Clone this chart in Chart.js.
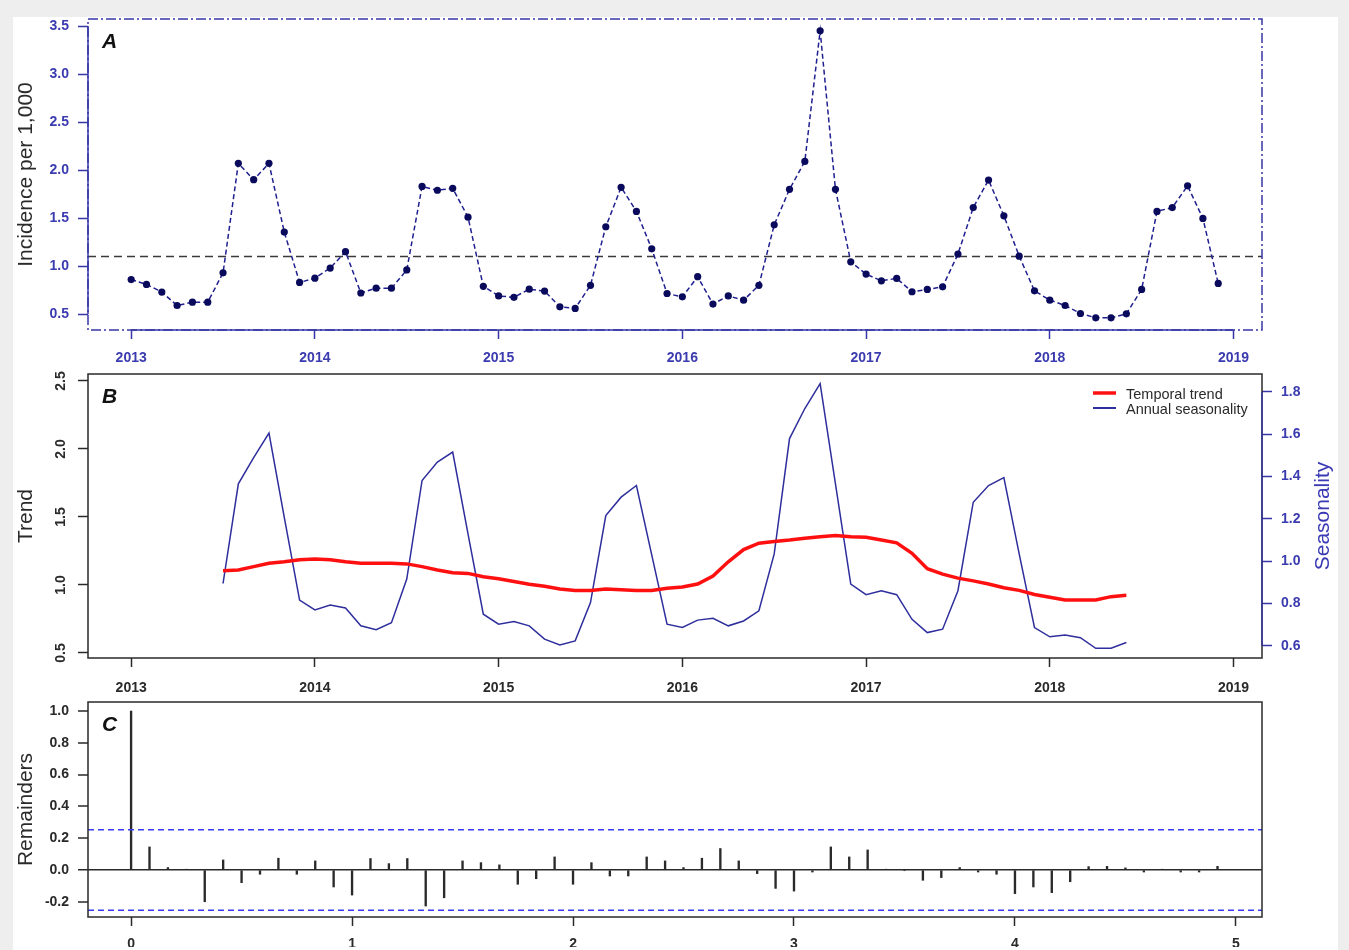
<!DOCTYPE html>
<html>
<head>
<meta charset="utf-8">
<title>Incidence, trend and remainders</title>
<script src="https://cdn.jsdelivr.net/npm/chart.js@4.4.0/dist/chart.umd.min.js"></script>
<style>
  html, body { margin: 0; padding: 0; background: #eeeeee; width: 1349px; height: 950px; overflow: hidden; }
  #sheet { position: absolute; left: 13px; top: 17px; width: 1325px; height: 933px; background: #ffffff; }
  canvas { position: absolute; left: 0; top: 0; }
</style>
</head>
<body>
<div id="sheet"></div>
<canvas id="chartA" width="1349" height="950"></canvas>
<canvas id="chartB" width="1349" height="950"></canvas>
<canvas id="chartC" width="1349" height="950"></canvas>
<script>
// ---- data ----
const startYear = 2013;              // panel A: monthly, Jan 2013 - Dec 2018
const incidence = [
  0.86, 0.81, 0.73, 0.59, 0.625, 0.625, 0.93, 2.07, 1.90, 2.07, 1.355, 0.83,
  0.875, 0.98, 1.15, 0.72, 0.77, 0.77, 0.96, 1.83, 1.79, 1.81, 1.51, 0.79,
  0.69, 0.675, 0.76, 0.74, 0.576, 0.56, 0.80, 1.41, 1.82, 1.57, 1.18, 0.715,
  0.68, 0.89, 0.605, 0.69, 0.646, 0.80, 1.43, 1.80, 2.09, 3.45, 1.80, 1.045,
  0.917, 0.847, 0.872, 0.733, 0.757, 0.785, 1.125, 1.61, 1.896, 1.524, 1.104, 0.743,
  0.646, 0.59, 0.507, 0.462, 0.462, 0.503, 0.757, 1.57, 1.61, 1.836, 1.497, 0.82
];
const threshold = 1.10;

const trendStart = 2013.5;           // panel B: monthly, Jul 2013 - Jun 2018
const trend = [
  1.105, 1.11, 1.135, 1.16, 1.17, 1.185,
  1.19, 1.185, 1.17, 1.16, 1.16, 1.16, 1.155, 1.135, 1.11, 1.09, 1.085, 1.06,
  1.045, 1.025, 1.005, 0.99, 0.97, 0.96, 0.96, 0.97, 0.965, 0.96, 0.96, 0.975,
  0.985, 1.007, 1.066, 1.17, 1.26, 1.307, 1.32, 1.33, 1.343, 1.355, 1.363, 1.355,
  1.35, 1.33, 1.31, 1.233, 1.12, 1.08, 1.05, 1.03, 1.007, 0.98, 0.96, 0.93,
  0.91, 0.89, 0.89, 0.89, 0.914, 0.925
];
const seasonality = [
  0.895, 1.366, 1.49, 1.606, 1.208, 0.817,
  0.77, 0.793, 0.779, 0.695, 0.677, 0.71, 0.916, 1.382, 1.469, 1.516, 1.13, 0.75,
  0.703, 0.715, 0.695, 0.632, 0.605, 0.624, 0.805, 1.216, 1.303, 1.358, 1.03, 0.703,
  0.687, 0.722, 0.731, 0.695, 0.718, 0.766, 1.035, 1.58, 1.722, 1.84, 1.366, 0.892,
  0.842, 0.861, 0.842, 0.726, 0.663, 0.679, 0.861, 1.279, 1.358, 1.395, 1.035, 0.687,
  0.643, 0.652, 0.639, 0.589, 0.589, 0.616
];

// panel C: autocorrelation of remainders, lags 0..59 (12 lags per unit)
const acf = [
  1.0, 0.145, 0.015, 0.004, -0.20, 0.063, -0.08, -0.027, 0.074, -0.027, 0.057, -0.107,
  -0.158, 0.072, 0.04, 0.072, -0.227, -0.175, 0.057, 0.046, 0.032, -0.09, -0.055, 0.082,
  -0.09, 0.046, -0.038, -0.038, 0.082, 0.057, 0.015, 0.074, 0.135, 0.057, -0.023, -0.116,
  -0.133, -0.013, 0.145, 0.082, 0.126, 0.004, -0.004, -0.065, -0.048, 0.015, -0.013, -0.027,
  -0.149, -0.107, -0.143, -0.074, 0.021, 0.023, 0.013, -0.013, 0.004, -0.013, -0.013, 0.023
];
const acfLimit = 0.253;

// tick labels
const yearTicks = [2013, 2014, 2015, 2016, 2017, 2018, 2019];
const incTicks = [0.5, 1.0, 1.5, 2.0, 2.5, 3.0, 3.5];
const trendTicks = [0.5, 1.0, 1.5, 2.0, 2.5];
const seasTicks = [0.6, 0.8, 1.0, 1.2, 1.4, 1.6, 1.8];
const acfTicks = [-0.2, 0.0, 0.2, 0.4, 0.6, 0.8, 1.0];
const lagTicks = [0, 1, 2, 3, 4, 5];

// axis ranges (R pads 4% around the data)
const YEAR_MIN = 2012.765, YEAR_MAX = 2019.155;
const LAG_MIN = -0.195, LAG_MAX = 5.118;

// ---- styling ----
const FAMILY = '"Liberation Sans", Arial, sans-serif';
const tickFont = { family: FAMILY, size: 14, weight: 'bold' };
const titleFont = { family: FAMILY, size: 21 };
const BLUE_AXIS = '#3636a6';
const BLUE_TEXT = '#3b3bb0';
const SEAS_BLUE = '#2e2e9c';
const DARK = '#2a2a2a';

const monthly = (start, values) => values.map((v, i) => ({ x: start + i / 12, y: v }));
const fixed = arr => s => { s.ticks = arr.map(v => ({ value: v })); };

function xAxis(ticksArr, min, max, color, textColor, pad, height) {
  return {
    type: 'linear', position: 'bottom', min, max, offset: false,
    afterBuildTicks: fixed(ticksArr),
    afterFit: s => { s.height = height; },
    border: { display: false },
    grid: { offset: false, drawOnChartArea: false, tickLength: 9, tickWidth: 1.5, tickColor: color },
    ticks: { color: textColor, font: tickFont, padding: pad, maxRotation: 0, autoSkip: false, callback: v => String(v) }
  };
}

function yAxis(ticksArr, min, max, color, textColor, title, extra) {
  return Object.assign({
    type: 'linear', position: 'left', min, max,
    afterBuildTicks: fixed(ticksArr),
    afterFit: s => { s.width = 88; },
    border: { display: false },
    grid: { drawOnChartArea: false, tickLength: 10, tickWidth: 1.5, tickColor: color },
    ticks: { color: textColor, font: tickFont, padding: 9, autoSkip: false, callback: v => v.toFixed(1) },
    title: { display: true, text: title, color: DARK, font: titleFont, padding: { top: 14, bottom: 0 } }
  }, extra || {});
}

// box around the plot, R-style axis lines (first to last tick) and the panel letter
const frame = {
  id: 'frame',
  afterDraw(chart, args, opts) {
    const { ctx, chartArea: a } = chart;
    ctx.save();
    ctx.lineWidth = 1.5;
    ctx.strokeStyle = opts.color;
    ctx.setLineDash(opts.dash || []);
    ctx.strokeRect(a.left, a.top, a.right - a.left, a.bottom - a.top);
    ctx.setLineDash([]);
    (opts.axes || []).forEach(([id, color]) => {
      const s = chart.scales[id];
      const p0 = s.getPixelForValue(s.ticks[0].value);
      const p1 = s.getPixelForValue(s.ticks[s.ticks.length - 1].value);
      ctx.strokeStyle = color;
      ctx.beginPath();
      if (s.isHorizontal()) {
        ctx.moveTo(p0, a.bottom); ctx.lineTo(p1, a.bottom);
      } else {
        const x = s.position === 'left' ? a.left : a.right;
        ctx.moveTo(x, p0); ctx.lineTo(x, p1);
      }
      ctx.stroke();
    });
    ctx.fillStyle = '#111';
    ctx.font = 'italic bold 21px ' + FAMILY;
    ctx.textBaseline = 'middle';
    ctx.fillText(opts.letter, a.left + 14, a.top + 23);
    ctx.restore();
  }
};

const common = {
  responsive: false,
  animation: false,
  events: [],
  plugins: { legend: { display: false }, tooltip: { enabled: false } }
};

// ---- panel A ----
new Chart(document.getElementById('chartA'), {
  type: 'line',
  data: {
    datasets: [
      {
        label: 'Incidence',
        data: monthly(startYear, incidence),
        borderColor: '#1f1f8f', borderWidth: 1.5, borderDash: [5, 3],
        pointRadius: 3.6, pointBackgroundColor: '#0a0a5c', pointBorderWidth: 0,
        tension: 0, order: 1
      },
      {
        label: 'Threshold',
        data: [{ x: YEAR_MIN, y: threshold }, { x: YEAR_MAX, y: threshold }],
        borderColor: '#3a3a3a', borderWidth: 1.5, borderDash: [8, 5],
        pointRadius: 0, order: 2
      }
    ]
  },
  options: Object.assign({}, common, {
    layout: { padding: { left: 0, top: 19, right: 87, bottom: 580 } },
    scales: {
      x: xAxis(yearTicks, YEAR_MIN, YEAR_MAX, BLUE_AXIS, BLUE_TEXT, 11, 40),
      y: yAxis(incTicks, 0.335, 3.573, BLUE_AXIS, BLUE_TEXT, 'Incidence per 1,000')
    },
    plugins: Object.assign({}, common.plugins, {
      frame: { color: BLUE_AXIS, dash: [10, 3, 2, 3], letter: 'A', axes: [['x', BLUE_AXIS], ['y', BLUE_AXIS]] }
    })
  }),
  plugins: [frame]
});

// ---- panel B ----
const trendLegend = {
  id: 'trendLegend',
  afterDraw(chart) {
    const { ctx, chartArea: a } = chart;
    ctx.save();
    ctx.font = '14.5px ' + FAMILY;
    ctx.textBaseline = 'middle';
    chart.data.datasets.forEach((ds, i) => {
      const y = a.top + 21 + i * 15;
      ctx.strokeStyle = ds.borderColor;
      ctx.lineWidth = i === 0 ? 3.5 : 2;
      ctx.beginPath(); ctx.moveTo(a.right - 169, y - 2); ctx.lineTo(a.right - 146, y - 2); ctx.stroke();
      ctx.fillStyle = DARK;
      ctx.fillText(ds.label, a.right - 136, y);
    });
    // right-hand axis title, reading bottom to top as in R
    const s = chart.scales.yS;
    ctx.translate(a.right + 61, (s.top + s.bottom) / 2);
    ctx.rotate(-Math.PI / 2);
    ctx.textAlign = 'center';
    ctx.fillStyle = '#3a3ab4';
    ctx.font = '21px ' + FAMILY;
    ctx.fillText('Seasonality', 0, 0);
    ctx.restore();
  }
};

new Chart(document.getElementById('chartB'), {
  type: 'line',
  data: {
    datasets: [
      {
        label: 'Temporal trend',
        data: monthly(trendStart, trend),
        yAxisID: 'yT',
        borderColor: '#ff1010', borderWidth: 3.5, pointRadius: 0, tension: 0, order: 1
      },
      {
        label: 'Annual seasonality',
        data: monthly(trendStart, seasonality),
        yAxisID: 'yS',
        borderColor: SEAS_BLUE, borderWidth: 1.5, pointRadius: 0, tension: 0, order: 2
      }
    ]
  },
  options: Object.assign({}, common, {
    layout: { padding: { left: 0, top: 374, right: 0, bottom: 252 } },
    scales: {
      x: xAxis(yearTicks, YEAR_MIN, YEAR_MAX, DARK, DARK, 12.5, 40),
      yT: yAxis(trendTicks, 0.463, 2.551, DARK, DARK, 'Trend', {
        ticks: { color: DARK, font: tickFont, padding: 7, autoSkip: false, minRotation: 90, maxRotation: 90,
                 crossAlign: 'center', callback: v => v.toFixed(1) }
      }),
      yS: {
        type: 'linear', position: 'right', min: 0.543, max: 1.885,
        afterBuildTicks: fixed(seasTicks),
        afterFit: s => { s.width = 87; },
        border: { display: false },
        grid: { drawOnChartArea: false, tickLength: 10, tickWidth: 1.5, tickColor: BLUE_AXIS },
        ticks: { color: BLUE_TEXT, font: tickFont, padding: 9, autoSkip: false, callback: v => v.toFixed(1) }
      }
    },
    plugins: Object.assign({}, common.plugins, {
      frame: { color: DARK, letter: 'B', axes: [['yS', BLUE_AXIS]] }
    })
  }),
  plugins: [frame, trendLegend]
});

// ---- panel C ----
new Chart(document.getElementById('chartC'), {
  type: 'bar',
  data: {
    datasets: [
      {
        type: 'bar',
        label: 'ACF',
        data: acf.map((v, lag) => ({ x: lag / 12, y: v })),
        backgroundColor: DARK, borderWidth: 0, barThickness: 1.7, order: 2
      },
      {
        type: 'line', label: 'upper',
        data: [{ x: LAG_MIN, y: acfLimit }, { x: LAG_MAX, y: acfLimit }],
        borderColor: '#3a3aff', borderWidth: 1.5, borderDash: [6, 4], pointRadius: 0, order: 1
      },
      {
        type: 'line', label: 'lower',
        data: [{ x: LAG_MIN, y: -acfLimit }, { x: LAG_MAX, y: -acfLimit }],
        borderColor: '#3a3aff', borderWidth: 1.5, borderDash: [6, 4], pointRadius: 0, order: 1
      }
    ]
  },
  options: Object.assign({}, common, {
    layout: { padding: { left: 0, top: 702, right: 87, bottom: 3 } },
    scales: {
      x: xAxis(lagTicks, LAG_MIN, LAG_MAX, DARK, DARK, 9.5, 30),
      y: yAxis(acfTicks, -0.296, 1.057, DARK, DARK, 'Remainders', {
        grid: {
          drawOnChartArea: true, tickLength: 10, tickWidth: 1.5, tickColor: DARK,
          color: c => (c.tick && c.tick.value === 0 ? DARK : 'rgba(0,0,0,0)'),
          lineWidth: c => (c.tick && c.tick.value === 0 ? 1.5 : 0)
        }
      })
    },
    plugins: Object.assign({}, common.plugins, {
      frame: { color: DARK, letter: 'C', axes: [] }
    })
  }),
  plugins: [frame]
});
</script>
</body>
</html>
